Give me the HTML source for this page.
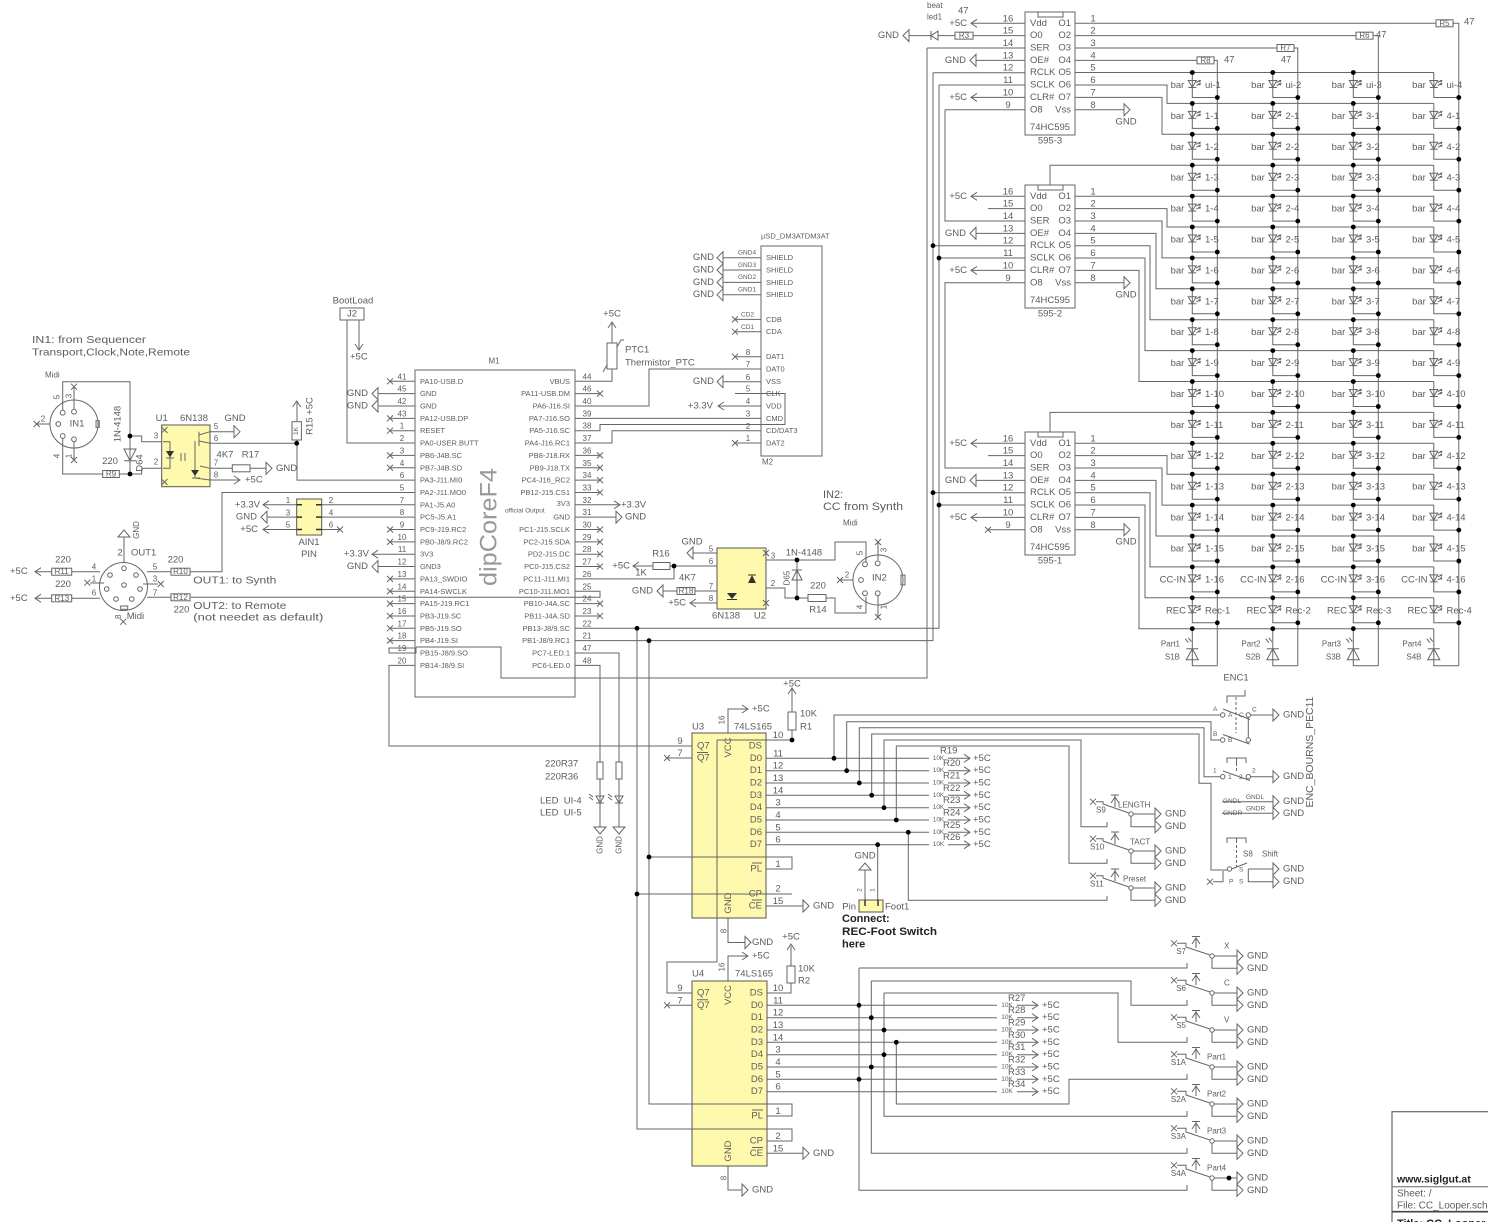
<!DOCTYPE html>
<html><head><meta charset="utf-8"><title>CC_Looper schematic</title>
<style>
html,body{margin:0;padding:0;background:#fff}
svg{display:block;font-size:9.5px}
text{font-family:"Liberation Sans",sans-serif;fill:#5c5c5c;dominant-baseline:central}
.s{font-size:7.5px}
.n{font-size:8px}
.t{font-size:6.5px}
.m{font-size:10.5px}
.b{font-size:11px;font-weight:bold;fill:#222}
.e{text-anchor:end}
.c{text-anchor:middle}
</style></head>
<body>
<svg width="1488" height="1222" viewBox="0 0 1488 1222" xmlns="http://www.w3.org/2000/svg">
<defs>
<path id="gl" d="M0,0L6,-6V6Z" fill="#fff" stroke="#666"/>
<path id="gr" d="M0,-6V6L6,0Z" fill="#fff" stroke="#666"/>
<path id="gd" d="M-6,0H6L0,7Z" fill="#fff" stroke="#666"/>
<path id="gu" d="M-6,0H6L0,-7Z" fill="#fff" stroke="#666"/>
<path id="cl" d="M6,-4L0,0L6,4" fill="none" stroke="#666"/>
<path id="cr" d="M-6,-4L0,0L-6,4" fill="none" stroke="#666"/>
<path id="cu" d="M-4,6L0,0L4,6" fill="none" stroke="#666"/>
<path id="cd" d="M-4,-6L0,0L4,-6" fill="none" stroke="#666"/>
<path id="x" d="M-3,-3L3,3M-3,3L3,-3" fill="none" stroke="#666"/>
<circle id="d" r="2.4" fill="#000"/>
<g id="led" fill="none" stroke="#666"><path d="M-4,8H4L0,15ZM-4,15H4M4,10l4,-2M6,8.3l2,-0.3l-0.6,1.8M4,13l4,-2M6,11.3l2,-0.3l-0.6,1.8"/></g>
<g id="c4"><path d="M0,0V25H25" fill="none" stroke="#666"/><use href="#led"/><circle cx="25" cy="25" r="2.4" fill="#000"/></g>
<g id="c"><use href="#c4"/><circle r="2.4" fill="#000"/></g>
<g id="p4"><path d="M0,0V37H25M-6,20H6M0,20L-6,31H6Z" fill="none" stroke="#666"/><path d="M-4,14l-3,-4M-1,13l-3,-4" fill="none" stroke="#666"/></g>
<g id="p"><use href="#p4"/><circle r="2.4" fill="#000"/></g>
</defs>

<!-- ===================== WIRES ===================== -->
<g fill="none" stroke="#666" stroke-width="1">
<path d="M1075,72.5H1433.8M1075,85.05H1167V103.4H1433.8M1075,97.4H1162V134.3H1433.8M1050,185V165.2H1433.8M1075,196.2H1433.8M1075,208.65H1167V227H1433.8M1075,221H1162V257.9H1433.8M1075,233.35H1156V288.8H1433.8M1075,245.7H1150V319.7H1433.8M1075,258.05H1145V350.6H1433.8M1075,270.4H1139V381.5H1433.8M1050,432V412.4H1433.8M1075,443.3H1433.8M1075,455.65H1167V474.2H1433.8M1075,468H1162V505.1H1433.8M1075,480.35H1156V536H1433.8M1075,492.7H1150V566.9H1433.8M1075,505.05H1145V597.8H1433.8M1075,517.4H1139V628.7H1433.8"/>
<path d="M1075,23.3H1436M1453,23.3H1458.8V665.7M1075,35.65H1356M1373,35.65H1378.3V665.7M1075,48H1277M1294,48H1297.8V665.7M1075,60.35H1197M1214,60.35H1217.3V665.7"/>
<path d="M1075,109.75H1124M1075,282.75H1124M1075,529.75H1124"/>
<path d="M971,23.3H1025M1025,35.65H973M955,35.65H938M931,35.65H909M927,48H1025M976,60.35H1025M933,72.7H1025M939,85.05H1025M971,97.4H1025M945,109.75H1025M945,109.75V221H1025"/>
<path d="M971,196.3H1025M988,208.65H1025M976,233.35H1025M933,245.7H1025M939,258.05H1025M971,270.4H1025M1025,282.75H945V468H1025"/>
<path d="M971,443.3H1025M988,455.65H1025M976,480.35H1025M933,492.7H1025M939,505.05H1025M971,517.4H1025M988,529.75H1025"/>
<path d="M927,48V678H501V647H416M933,72.7V640.65H575M939,85.05V628.3H575"/>
<path d="M938,31V40L931,35.65ZM931,31V40"/>

<path d="M390,381.3H415M378,393.65H415M378,406H415M390,418.35H415M390,430.7H415M347,320V443.05H415M390,455.4H415M390,467.75H415M415,480.1H297V440M297,421V402M415,492.45H222V571.7H190M415,504.8H322M415,517.15H322M390,529.5H415M390,541.85H415M372,554.2H415M378,566.55H415M390,578.9H415M390,591.25H415M390,603.6H415M390,615.95H415M390,628.3H415M390,640.65H415M390,653H415M415,665.35H389V746H692"/>
<rect x="389" y="648" width="27" height="5"/>
<path d="M575,381.3H612V369M575,393.65H600M575,406H649V369H761M575,418.35H761M575,430.7H600V424.5H785V393.5H735M575,443.05H612V430.7H761M575,455.4H600M575,467.75H600M575,480.1H600M575,492.45H600M575,504.8H619M575,517.15H616M575,529.5H600M575,541.85H600M575,554.2H600M575,566.55H600M575,578.9H674V566M575,591.25H600V597.3H190M575,603.6H600M575,615.95H600M575,653H619V762M575,665.35H600V762"/>
<path d="M723,257.7H761M723,270H761M723,282.4H761M723,294.7H761M735,319.4H761M735,331.7H761M735,356.7H761M723,381.7H761M735,393.5H761M718,406H761M735,443H761"/>
<path d="M612,369V322M603,372L621,340l3,0"/>
<path d="M359,320V350"/>

<path d="M62.7,412V381.7H130V474M74,411V387M50,424H37M62.7,436V474H102.7M119.3,474H130M74,437V460M130,436H141.7V441.7H161.7M130,474H141.7V468.3H161.7"/>
<path d="M124,449H136L130,460.7ZM124,460.7H136"/>
<path d="M210,431.7H234M210,443.3H296.7M210,468.3H232.3M250,468.3H266M210,480H240M296.7,443.3V440"/>

<path d="M263,504.8H296.7M267,517.15H296.7M263,529.5H296.7M321.7,529.5H340"/>

<path d="M124,562.5V537M100,571.7H71.7M51.7,571.7H35M100,598.3H71.7M51.7,598.3H35M147,571.7H171M147,597.3H171M90,583H104M143,584H158"/>

<path d="M600,779V827M619,779V827M596,796H604L600,803ZM596,803H604M615,796H623L619,803ZM615,803H623M593,797l-4,-3M593,800l-4,-3M612,797l-4,-3M612,800l-4,-3"/>

<path d="M637,628.3V1129H792V1141H767M649,640.65V1104H792V1116H767M649,857H792V869H766M637,894H792"/>

<path d="M717,740V962H667V993H692M717,740H792M667,758H692M728,733V709H748M792,730V740M792,712V689"/>
<path d="M766,758.3H929M948,758.3H970M766,770.7H929M948,770.7H970M766,783H929M948,783H970M766,795.3H929M948,795.3H970M766,807.7H929M948,807.7H970M766,820H929M948,820H970M766,832.3H929M948,832.3H970M766,844.7H929M948,844.7H970"/>
<path d="M766,906H803M728,918V942.5H745M728,981V956H748"/>
<path d="M834,758.3V715H1220.5M846.7,770.7V721.7H1211V740H1220.5M859.3,783V727.7H1204V776.7H1220.5M871.7,795.3V734H1199V783.3H1211V870H1227M884,807.7V740H1081V826.7H1107V822M896.3,820V746H1069V863.3H1107V859M908.3,832.3V900.3H1107V896M877.7,844.7V906"/>

<path d="M667,1005.3H692M791,983V993H767M791,966V946"/>
<path d="M767,1005.3H997M1017,1005.3H1038M767,1017.7H997M1017,1017.7H1038M767,1030H997M1017,1030H1038M767,1042.3H997M1017,1042.3H1038M767,1054.7H997M1017,1054.7H1038M767,1067H997M1017,1067H1038M767,1079.3H997M1017,1079.3H1038M767,1091.7H997M1017,1091.7H1038"/>
<path d="M767,1153.3H803M728,1166V1190H742"/>
<path d="M859,968V1190.3H1187V1185M859,968H1187V963M871.3,981V1153.3H1187V1148M871.3,981H1131V1005.3H1187V1000M884,993V1116.3H1187V1111M884,993H1118V1042.3H1187V1037M896.3,1042.3V1104H1069V1079.3H1187V1074"/>

<path d="M1177,943.3H1186V947L1210,955M1192,936.5H1200M1196,936.5V948M1214,956H1237M1212,958.2V968.3H1237"/>
<path d="M1177,980.3H1186V984L1210,992M1192,973.5H1200M1196,973.5V985M1214,993H1237M1212,995.2V1005.3H1237"/>
<path d="M1177,1017.3H1186V1021L1210,1029M1192,1010.5H1200M1196,1010.5V1022M1214,1030H1237M1212,1032.2V1042.3H1237"/>
<path d="M1177,1054.3H1186V1058L1210,1066M1192,1047.5H1200M1196,1047.5V1059M1214,1067H1237M1212,1069.2V1079.3H1237"/>
<path d="M1177,1091.3H1186V1095L1210,1103M1192,1084.5H1200M1196,1084.5V1096M1214,1104H1237M1212,1106.2V1116.3H1237"/>
<path d="M1177,1128.3H1186V1132L1210,1140M1192,1121.5H1200M1196,1121.5V1133M1214,1141H1237M1212,1143.2V1153.3H1237"/>
<path d="M1177,1165.3H1186V1169L1210,1177M1192,1158.5H1200M1196,1158.5V1170M1214,1178H1237M1212,1180.2V1190.3H1237"/>

<path d="M1096,801.7H1103V804L1129,813M1111,795H1119M1115,795V807M1133,814H1155M1131,816V826.7H1155"/>
<path d="M1096,838.7H1103V841L1129,850M1111,832H1119M1115,832V844M1133,851H1155M1131,853V863.3H1155"/>
<path d="M1096,875.7H1103V878L1129,887M1111,869H1119M1115,869V881M1133,888H1155M1131,890V900.3H1155"/>

<path d="M1227,703V696H1245V690M1223,709L1250,719.5M1250.5,715H1273M1223,734.5L1249.5,744M1248.3,717V738M1227,763V758H1246V763M1236.5,758V763M1223,771L1250,780.5M1250.5,776.7H1273M1222,801.7H1273M1222,813.3H1273M1227,843V838H1246V843M1236.5,838V843M1231.5,869L1247,863M1248.3,869H1273M1248.3,869V881.7H1273M1213,881.7H1223V871"/>
<path d="M1236,697V733M1236.5,763V773M1236.5,845V867" stroke-dasharray="3,2"/>

<path d="M865,900V870M865,900V906M878,900V906"/>

<path d="M693,553H717M674,566H717M633,566H653M670,566H674M663,591H677M695,591H717M690,603H717M766,560H797M766,588H785V598H797M797,560V598M792,580H802L797,570ZM792,570H802M797,598H808M826,598H835V613H866V597M797,560H835V542H866V563M878,542V560M853,580H840M878,596V617"/>
<path d="M727,553V573" stroke-width="1.6"/>
<path d="M717,553H721L727,558M727,568L733,574V590M752,560V575M752,583V588M741,577V586M744,577V586M732,600V605"/>

<g fill="#fff">
<rect x="1436" y="19.8" width="17" height="7"/><rect x="1356" y="32.15" width="17" height="7"/><rect x="1277" y="44.5" width="17" height="7"/><rect x="1197" y="56.85" width="17" height="7"/>
<rect x="955" y="32.15" width="18" height="7"/>
<rect x="292" y="421.7" width="9.4" height="18.3"/>
<rect x="607" y="343" width="10" height="26"/>
<rect x="102.7" y="470.5" width="16.6" height="7"/>
<rect x="232.3" y="464.8" width="17.7" height="7"/>
<rect x="51.7" y="568.2" width="20" height="7"/><rect x="51.7" y="594.8" width="20" height="7"/>
<rect x="171" y="568.2" width="19" height="7"/><rect x="171" y="593.8" width="19" height="7"/>
<rect x="597" y="762" width="6" height="17"/><rect x="616" y="762" width="6" height="17"/>
<rect x="788" y="712" width="8" height="18"/><rect x="787" y="966" width="8" height="17"/>
<rect x="653" y="562.5" width="17" height="7"/><rect x="677" y="587.5" width="18" height="7"/><rect x="808" y="594.5" width="18" height="7"/>
</g>
<rect x="1025" y="12" width="50" height="123"/><path d="M1038,12V17H1063V12"/>
<rect x="1025" y="185" width="50" height="123"/><path d="M1038,185V190H1063V185"/>
<rect x="1025" y="432" width="50" height="123"/><path d="M1038,432V437H1063V432"/>
<rect x="415" y="370" width="160" height="327"/>
<rect x="761" y="246" width="61" height="210"/>
<rect x="340" y="308" width="24" height="12"/>
<circle cx="74" cy="424" r="24"/>
<circle cx="123.5" cy="586.5" r="24"/>
<circle cx="878" cy="580" r="25"/>
<rect x="96" y="420.7" width="3.3" height="6.6"/>
<rect x="120.7" y="606" width="7" height="3.3"/>
<rect x="901" y="575" width="4" height="10"/>
<g fill="#fff">
<circle cx="62.7" cy="412.7" r="2.4"/><circle cx="74" cy="411.7" r="2.4"/><circle cx="58.3" cy="424" r="2.4"/><circle cx="62.7" cy="436" r="2.4"/><circle cx="74" cy="439.3" r="2.4"/>
<circle cx="124" cy="568.3" r="2.3"/><circle cx="136" cy="575" r="2.3"/><circle cx="110" cy="575" r="2.3"/><circle cx="106.7" cy="589" r="2.3"/><circle cx="124" cy="585" r="2.3"/><circle cx="140" cy="589" r="2.3"/><circle cx="116" cy="599" r="2.3"/><circle cx="131.7" cy="599" r="2.3"/>
<circle cx="865" cy="564.3" r="2.4"/><circle cx="877.7" cy="563.3" r="2.4"/><circle cx="861" cy="580" r="2.4"/><circle cx="865" cy="593.3" r="2.4"/><circle cx="877.7" cy="593.3" r="2.4"/>
<circle cx="1212" cy="956" r="2.2"/><circle cx="1212" cy="993" r="2.2"/><circle cx="1212" cy="1030" r="2.2"/><circle cx="1212" cy="1067" r="2.2"/><circle cx="1212" cy="1104" r="2.2"/><circle cx="1212" cy="1141" r="2.2"/><circle cx="1212" cy="1178" r="2.2"/>
<circle cx="1131" cy="814" r="2.2"/><circle cx="1131" cy="851" r="2.2"/><circle cx="1131" cy="888" r="2.2"/>
<circle cx="1222.7" cy="715" r="2.2"/><circle cx="1248.3" cy="715" r="2.2"/><circle cx="1222.7" cy="740" r="2.2"/><circle cx="1248.3" cy="740" r="2.2"/><circle cx="1222.7" cy="776.7" r="2.2"/><circle cx="1248.3" cy="776.7" r="2.2"/><circle cx="1229.5" cy="869" r="2.2"/>
</g>
</g>

<g stroke="#555" fill="#fff9ae">
<rect x="161.7" y="425" width="48.3" height="61.7"/>
<rect x="296.7" y="499" width="25" height="36"/>
<rect x="717" y="548" width="49" height="61"/>
<rect x="692" y="733" width="74" height="185"/>
<rect x="692" y="981" width="75" height="185"/>
<rect x="859" y="900" width="24" height="12"/>
</g>
<g fill="none" stroke="#666">
<path d="M717,740V918M717,740H766M637,894H766M649,857H766"/>
<path d="M692,1104H767M692,1129H767"/>
<path d="M163,441.7H170V468.3H163M166,458H174M181,453V461M185,453V461M199,431.7V446M199,435L210,431.7M199,441L210,443.3M195,441V478M192,478H200M195,478L210,480M200,466L210,468.3"/>
<path d="M865,900V906M878,900V906" stroke="#333" stroke-width="1.5"/>
<path d="M296.7,504.8H302M296.7,517.15H302M296.7,529.5H302M316,504.8H321.7M316,517.15H321.7M316,529.5H321.7" stroke="#333" stroke-width="1.5"/>
<path d="M697,752.5H708M697,999.8H708M752,863H762M752,900H762M752,1110H763M752,1147.5H763"/>
</g>
<g fill="#333" stroke="none">
<path d="M166,451H174L170,457.5Z"/>
<path d="M191,470H199L195,476Z"/>
<path d="M752,575L748,583H756Z"/>
<path d="M727,593H737L732,599Z"/>
</g>
<path d="M748,575H756M727,599.5H737" stroke="#333"/>

<use href="#cl" x="971" y="23.3"/><use href="#cl" x="971" y="97.4"/><use href="#cl" x="971" y="196.3"/><use href="#cl" x="971" y="270.4"/><use href="#cl" x="971" y="443.3"/><use href="#cl" x="971" y="517.4"/>
<use href="#gl" x="970" y="60.35"/><use href="#gl" x="970" y="233.35"/><use href="#gl" x="970" y="480.35"/>
<use href="#gl" x="903" y="35.65"/>
<use href="#gr" x="1124" y="109.75"/><use href="#gr" x="1124" y="282.75"/><use href="#gr" x="1124" y="529.75"/>
<use href="#x" x="988" y="529.75"/>
<use href="#d" x="933" y="245.7"/><use href="#d" x="939" y="258.05"/><use href="#d" x="933" y="492.7"/><use href="#d" x="939" y="505.05"/>

<use href="#c" x="1192.3" y="72.5"/><use href="#c" x="1272.8" y="72.5"/><use href="#c" x="1353.3" y="72.5"/><use href="#c4" x="1433.8" y="72.5"/>
<use href="#c" x="1192.3" y="103.4"/><use href="#c" x="1272.8" y="103.4"/><use href="#c" x="1353.3" y="103.4"/><use href="#c4" x="1433.8" y="103.4"/>
<use href="#c" x="1192.3" y="134.3"/><use href="#c" x="1272.8" y="134.3"/><use href="#c" x="1353.3" y="134.3"/><use href="#c4" x="1433.8" y="134.3"/>
<use href="#c" x="1192.3" y="165.2"/><use href="#c" x="1272.8" y="165.2"/><use href="#c" x="1353.3" y="165.2"/><use href="#c4" x="1433.8" y="165.2"/>
<use href="#c" x="1192.3" y="196.1"/><use href="#c" x="1272.8" y="196.1"/><use href="#c" x="1353.3" y="196.1"/><use href="#c4" x="1433.8" y="196.1"/>
<use href="#c" x="1192.3" y="227"/><use href="#c" x="1272.8" y="227"/><use href="#c" x="1353.3" y="227"/><use href="#c4" x="1433.8" y="227"/>
<use href="#c" x="1192.3" y="257.9"/><use href="#c" x="1272.8" y="257.9"/><use href="#c" x="1353.3" y="257.9"/><use href="#c4" x="1433.8" y="257.9"/>
<use href="#c" x="1192.3" y="288.8"/><use href="#c" x="1272.8" y="288.8"/><use href="#c" x="1353.3" y="288.8"/><use href="#c4" x="1433.8" y="288.8"/>
<use href="#c" x="1192.3" y="319.7"/><use href="#c" x="1272.8" y="319.7"/><use href="#c" x="1353.3" y="319.7"/><use href="#c4" x="1433.8" y="319.7"/>
<use href="#c" x="1192.3" y="350.6"/><use href="#c" x="1272.8" y="350.6"/><use href="#c" x="1353.3" y="350.6"/><use href="#c4" x="1433.8" y="350.6"/>
<use href="#c" x="1192.3" y="381.5"/><use href="#c" x="1272.8" y="381.5"/><use href="#c" x="1353.3" y="381.5"/><use href="#c4" x="1433.8" y="381.5"/>
<use href="#c" x="1192.3" y="412.4"/><use href="#c" x="1272.8" y="412.4"/><use href="#c" x="1353.3" y="412.4"/><use href="#c4" x="1433.8" y="412.4"/>
<use href="#c" x="1192.3" y="443.3"/><use href="#c" x="1272.8" y="443.3"/><use href="#c" x="1353.3" y="443.3"/><use href="#c4" x="1433.8" y="443.3"/>
<use href="#c" x="1192.3" y="474.2"/><use href="#c" x="1272.8" y="474.2"/><use href="#c" x="1353.3" y="474.2"/><use href="#c4" x="1433.8" y="474.2"/>
<use href="#c" x="1192.3" y="505.1"/><use href="#c" x="1272.8" y="505.1"/><use href="#c" x="1353.3" y="505.1"/><use href="#c4" x="1433.8" y="505.1"/>
<use href="#c" x="1192.3" y="536"/><use href="#c" x="1272.8" y="536"/><use href="#c" x="1353.3" y="536"/><use href="#c4" x="1433.8" y="536"/>
<use href="#c" x="1192.3" y="566.9"/><use href="#c" x="1272.8" y="566.9"/><use href="#c" x="1353.3" y="566.9"/><use href="#c4" x="1433.8" y="566.9"/>
<use href="#c" x="1192.3" y="597.8"/><use href="#c" x="1272.8" y="597.8"/><use href="#c" x="1353.3" y="597.8"/><use href="#c4" x="1433.8" y="597.8"/>
<use href="#p" x="1192.3" y="628.7"/><use href="#p" x="1272.8" y="628.7"/><use href="#p" x="1353.3" y="628.7"/><use href="#p4" x="1433.8" y="628.7"/>

<use href="#x" x="390" y="381.3"/><use href="#x" x="390" y="418.35"/><use href="#x" x="390" y="430.7"/><use href="#x" x="390" y="455.4"/><use href="#x" x="390" y="467.75"/><use href="#x" x="390" y="529.5"/><use href="#x" x="390" y="541.85"/><use href="#x" x="390" y="578.9"/><use href="#x" x="390" y="591.25"/><use href="#x" x="390" y="603.6"/><use href="#x" x="390" y="615.95"/><use href="#x" x="390" y="628.3"/><use href="#x" x="390" y="640.65"/>
<use href="#gl" x="372" y="393.65"/><use href="#gl" x="372" y="406"/><use href="#gl" x="372" y="566.55"/><use href="#cl" x="372" y="554.2"/>
<use href="#x" x="600" y="393.65"/><use href="#x" x="600" y="455.4"/><use href="#x" x="600" y="467.75"/><use href="#x" x="600" y="480.1"/><use href="#x" x="600" y="492.45"/><use href="#x" x="600" y="529.5"/><use href="#x" x="600" y="541.85"/><use href="#x" x="600" y="554.2"/><use href="#x" x="600" y="566.55"/><use href="#x" x="600" y="603.6"/><use href="#x" x="600" y="615.95"/>
<use href="#cr" x="620" y="504.8"/><use href="#gr" x="616" y="517.15"/>
<use href="#d" x="637" y="628.3"/><use href="#d" x="649" y="640.65"/>
<use href="#gl" x="717" y="257.7"/><use href="#gl" x="717" y="270"/><use href="#gl" x="717" y="282.4"/><use href="#gl" x="717" y="294.7"/><use href="#gl" x="717" y="381.7"/><use href="#cl" x="718" y="406"/>
<use href="#x" x="735" y="319.4"/><use href="#x" x="735" y="331.7"/><use href="#x" x="735" y="356.7"/><use href="#x" x="735" y="443"/>
<use href="#cu" x="612" y="322"/>
<use href="#cd" x="359" y="350"/>
<use href="#x" x="74" y="386.7"/><use href="#x" x="36.7" y="424"/><use href="#x" x="74" y="460"/>
<use href="#d" x="130" y="436"/><use href="#d" x="130" y="474"/>
<use href="#x" x="164.5" y="430"/><use href="#x" x="164.5" y="482"/>
<use href="#gr" x="234" y="431.7"/><use href="#gr" x="266" y="468.3"/><use href="#cr" x="240" y="480"/>
<use href="#d" x="296.7" y="443.3"/><use href="#cu" x="296.7" y="401"/>
<use href="#cl" x="263" y="504.8"/><use href="#gl" x="261" y="517.15"/><use href="#cl" x="263" y="529.5"/><use href="#x" x="340" y="529.5"/>
<use href="#gu" x="124" y="537"/><use href="#cl" x="35" y="571.7"/><use href="#cl" x="35" y="598.3"/>
<use href="#x" x="87.3" y="582.7"/><use href="#x" x="160.7" y="584"/><use href="#x" x="123.3" y="621.7"/>
<use href="#gd" x="600" y="827"/><use href="#gd" x="619" y="827"/>
<use href="#x" x="667" y="758"/><use href="#cr" x="748" y="709"/><use href="#cu" x="792" y="688"/><use href="#d" x="792" y="740"/>
<use href="#cr" x="970" y="758.3"/><use href="#cr" x="970" y="770.7"/><use href="#cr" x="970" y="783"/><use href="#cr" x="970" y="795.3"/><use href="#cr" x="970" y="807.7"/><use href="#cr" x="970" y="820"/><use href="#cr" x="970" y="832.3"/><use href="#cr" x="970" y="844.7"/>
<use href="#gr" x="803" y="906"/><use href="#gr" x="745" y="942.5"/><use href="#cr" x="748" y="956"/>
<use href="#d" x="649" y="857"/><use href="#d" x="637" y="894"/>
<use href="#d" x="834" y="758.3"/><use href="#d" x="846.7" y="770.7"/><use href="#d" x="859.3" y="783"/><use href="#d" x="871.7" y="795.3"/><use href="#d" x="884" y="807.7"/><use href="#d" x="896.3" y="820"/><use href="#d" x="908.3" y="832.3"/><use href="#d" x="877.7" y="844.7"/>
<use href="#x" x="667" y="1005.3"/><use href="#cu" x="791" y="944"/>
<use href="#cr" x="1038" y="1005.3"/><use href="#cr" x="1038" y="1017.7"/><use href="#cr" x="1038" y="1030"/><use href="#cr" x="1038" y="1042.3"/><use href="#cr" x="1038" y="1054.7"/><use href="#cr" x="1038" y="1067"/><use href="#cr" x="1038" y="1079.3"/><use href="#cr" x="1038" y="1091.7"/>
<use href="#gr" x="803" y="1153.3"/><use href="#gr" x="742" y="1190"/>
<use href="#d" x="859" y="1005.3"/><use href="#d" x="871.3" y="1017.7"/><use href="#d" x="884" y="1030"/><use href="#d" x="896.3" y="1042.3"/><use href="#d" x="884" y="1054.7"/><use href="#d" x="871.3" y="1067"/><use href="#d" x="859" y="1079.3"/>
<use href="#x" x="1174" y="943.3"/><use href="#x" x="1174" y="980.3"/><use href="#x" x="1174" y="1017.3"/><use href="#x" x="1174" y="1054.3"/><use href="#x" x="1174" y="1091.3"/><use href="#x" x="1174" y="1128.3"/><use href="#x" x="1174" y="1165.3"/>
<use href="#cu" x="1196" y="938"/><use href="#cu" x="1196" y="975"/><use href="#cu" x="1196" y="1012"/><use href="#cu" x="1196" y="1049"/><use href="#cu" x="1196" y="1086"/><use href="#cu" x="1196" y="1123"/><use href="#cu" x="1196" y="1160"/>
<use href="#gr" x="1237" y="956"/><use href="#gr" x="1237" y="968.3"/><use href="#gr" x="1237" y="993"/><use href="#gr" x="1237" y="1005.3"/><use href="#gr" x="1237" y="1030"/><use href="#gr" x="1237" y="1042.3"/><use href="#gr" x="1237" y="1067"/><use href="#gr" x="1237" y="1079.3"/><use href="#gr" x="1237" y="1104"/><use href="#gr" x="1237" y="1116.3"/><use href="#gr" x="1237" y="1141"/><use href="#gr" x="1237" y="1153.3"/><use href="#gr" x="1237" y="1178"/><use href="#gr" x="1237" y="1190.3"/>
<use href="#d" x="1229" y="1178"/>
<use href="#x" x="1093" y="801.7"/><use href="#x" x="1093" y="838.7"/><use href="#x" x="1093" y="875.7"/>
<use href="#cu" x="1115" y="797"/><use href="#cu" x="1115" y="834"/><use href="#cu" x="1115" y="871"/>
<use href="#gr" x="1155" y="814"/><use href="#gr" x="1155" y="826.7"/><use href="#gr" x="1155" y="851"/><use href="#gr" x="1155" y="863.3"/><use href="#gr" x="1155" y="888"/><use href="#gr" x="1155" y="900.3"/>
<use href="#gr" x="1273" y="715"/><use href="#gr" x="1273" y="776.7"/><use href="#gr" x="1273" y="801.7"/><use href="#gr" x="1273" y="813.3"/><use href="#gr" x="1273" y="869"/><use href="#gr" x="1273" y="881.7"/>
<use href="#x" x="1210" y="881.7"/>
<use href="#gu" x="865" y="870"/>
<use href="#gl" x="687" y="553"/><use href="#cl" x="633" y="566"/><use href="#gl" x="657" y="591"/><use href="#cl" x="690" y="603"/>
<use href="#d" x="674" y="566"/><use href="#x" x="766" y="553"/><use href="#x" x="766" y="603"/>
<use href="#d" x="797" y="560"/><use href="#d" x="797" y="598"/>
<use href="#x" x="878" y="542"/><use href="#x" x="840" y="580"/><use href="#x" x="878" y="617"/>

<rect x="1392" y="1111.7" width="100" height="115" fill="none" stroke="#666" stroke-width="1.2"/>
<path d="M1392,1186.7H1488" stroke="#666"/>
<path d="M1392,1211.7H1488" stroke="#444" stroke-width="1.6"/>

<!-- ===================== TEXT ===================== -->
<text x="1030" y="23.3">Vdd</text><text x="1030" y="35.65">O0</text><text x="1030" y="48">SER</text><text x="1030" y="60.35">OE#</text><text x="1030" y="72.7">RCLK</text><text x="1030" y="85.05">SCLK</text><text x="1030" y="97.4">CLR#</text><text x="1030" y="109.75">O8</text>
<text class="e" x="1071" y="23.3">O1</text><text class="e" x="1071" y="35.65">O2</text><text class="e" x="1071" y="48">O3</text><text class="e" x="1071" y="60.35">O4</text><text class="e" x="1071" y="72.7">O5</text><text class="e" x="1071" y="85.05">O6</text><text class="e" x="1071" y="97.4">O7</text><text class="e" x="1071" y="109.75">Vss</text>
<text class="c" x="1050" y="127.5">74HC595</text><text class="c" x="1050" y="141">595-3</text>
<text class="c" x="1008" y="18.8">16</text><text class="c" x="1008" y="31.2">15</text><text class="c" x="1008" y="43.5">14</text><text class="c" x="1008" y="55.9">13</text><text class="c" x="1008" y="68.2">12</text><text class="c" x="1008" y="80.6">11</text><text class="c" x="1008" y="92.9">10</text><text class="c" x="1008" y="105.3">9</text>
<text class="c" x="1093" y="18.8">1</text><text class="c" x="1093" y="31.2">2</text><text class="c" x="1093" y="43.5">3</text><text class="c" x="1093" y="55.9">4</text><text class="c" x="1093" y="68.2">5</text><text class="c" x="1093" y="80.6">6</text><text class="c" x="1093" y="92.9">7</text><text class="c" x="1093" y="105.3">8</text>
<text class="e" x="967" y="23.3">+5C</text><text class="e" x="966" y="60.35">GND</text><text class="e" x="967" y="97.4">+5C</text>
<text class="c" x="1126" y="122">GND</text>
<text class="e" x="899" y="35.65">GND</text>
<text x="927" y="5.5" class="n">beat</text><text x="927" y="17" class="n">led1</text><text x="958" y="11">47</text>
<text class="c n" x="964" y="35.65">R3</text>
<text x="1030" y="196.3">Vdd</text><text x="1030" y="208.65">O0</text><text x="1030" y="221">SER</text><text x="1030" y="233.35">OE#</text><text x="1030" y="245.7">RCLK</text><text x="1030" y="258.05">SCLK</text><text x="1030" y="270.4">CLR#</text><text x="1030" y="282.75">O8</text>
<text class="e" x="1071" y="196.3">O1</text><text class="e" x="1071" y="208.65">O2</text><text class="e" x="1071" y="221">O3</text><text class="e" x="1071" y="233.35">O4</text><text class="e" x="1071" y="245.7">O5</text><text class="e" x="1071" y="258.05">O6</text><text class="e" x="1071" y="270.4">O7</text><text class="e" x="1071" y="282.75">Vss</text>
<text class="c" x="1050" y="300.5">74HC595</text><text class="c" x="1050" y="314">595-2</text>
<text class="c" x="1008" y="191.8">16</text><text class="c" x="1008" y="204.2">15</text><text class="c" x="1008" y="216.5">14</text><text class="c" x="1008" y="228.9">13</text><text class="c" x="1008" y="241.2">12</text><text class="c" x="1008" y="253.6">11</text><text class="c" x="1008" y="265.9">10</text><text class="c" x="1008" y="278.3">9</text>
<text class="c" x="1093" y="191.8">1</text><text class="c" x="1093" y="204.2">2</text><text class="c" x="1093" y="216.5">3</text><text class="c" x="1093" y="228.9">4</text><text class="c" x="1093" y="241.2">5</text><text class="c" x="1093" y="253.6">6</text><text class="c" x="1093" y="265.9">7</text><text class="c" x="1093" y="278.3">8</text>
<text class="e" x="967" y="196.3">+5C</text><text class="e" x="966" y="233.35">GND</text><text class="e" x="967" y="270.4">+5C</text>
<text class="c" x="1126" y="295">GND</text>
<text x="1030" y="443.3">Vdd</text><text x="1030" y="455.65">O0</text><text x="1030" y="468">SER</text><text x="1030" y="480.35">OE#</text><text x="1030" y="492.7">RCLK</text><text x="1030" y="505.05">SCLK</text><text x="1030" y="517.4">CLR#</text><text x="1030" y="529.75">O8</text>
<text class="e" x="1071" y="443.3">O1</text><text class="e" x="1071" y="455.65">O2</text><text class="e" x="1071" y="468">O3</text><text class="e" x="1071" y="480.35">O4</text><text class="e" x="1071" y="492.7">O5</text><text class="e" x="1071" y="505.05">O6</text><text class="e" x="1071" y="517.4">O7</text><text class="e" x="1071" y="529.75">Vss</text>
<text class="c" x="1050" y="547.5">74HC595</text><text class="c" x="1050" y="561">595-1</text>
<text class="c" x="1008" y="438.8">16</text><text class="c" x="1008" y="451.2">15</text><text class="c" x="1008" y="463.5">14</text><text class="c" x="1008" y="475.9">13</text><text class="c" x="1008" y="488.2">12</text><text class="c" x="1008" y="500.6">11</text><text class="c" x="1008" y="512.9">10</text><text class="c" x="1008" y="525.3">9</text>
<text class="c" x="1093" y="438.8">1</text><text class="c" x="1093" y="451.2">2</text><text class="c" x="1093" y="463.5">3</text><text class="c" x="1093" y="475.9">4</text><text class="c" x="1093" y="488.2">5</text><text class="c" x="1093" y="500.6">6</text><text class="c" x="1093" y="512.9">7</text><text class="c" x="1093" y="525.3">8</text>
<text class="e" x="967" y="443.3">+5C</text><text class="e" x="966" y="480.35">GND</text><text class="e" x="967" y="517.4">+5C</text>
<text class="c" x="1126" y="542">GND</text>

<text class="c n" x="1444.5" y="23.3">R5</text><text x="1464" y="22">47</text>
<text class="c n" x="1364.5" y="35.65">R6</text><text x="1376" y="35">47</text>
<text class="c n" x="1285.5" y="48">R7</text><text class="c" x="1286" y="60">47</text>
<text class="c n" x="1205.5" y="60.35">R8</text><text x="1224" y="60">47</text>

<text class="e"><tspan x="1184.3" y="85">bar</tspan><tspan x="1264.8" y="85">bar</tspan><tspan x="1345.3" y="85">bar</tspan><tspan x="1425.8" y="85">bar</tspan></text>
<text><tspan x="1205" y="85">ui-1</tspan><tspan x="1285.5" y="85">ui-2</tspan><tspan x="1366" y="85">ui-3</tspan><tspan x="1446.5" y="85">ui-4</tspan></text>
<text class="e"><tspan x="1184.3" y="115.9">bar</tspan><tspan x="1264.8" y="115.9">bar</tspan><tspan x="1345.3" y="115.9">bar</tspan><tspan x="1425.8" y="115.9">bar</tspan></text>
<text><tspan x="1205" y="115.9">1-1</tspan><tspan x="1285.5" y="115.9">2-1</tspan><tspan x="1366" y="115.9">3-1</tspan><tspan x="1446.5" y="115.9">4-1</tspan></text>
<text class="e"><tspan x="1184.3" y="146.8">bar</tspan><tspan x="1264.8" y="146.8">bar</tspan><tspan x="1345.3" y="146.8">bar</tspan><tspan x="1425.8" y="146.8">bar</tspan></text>
<text><tspan x="1205" y="146.8">1-2</tspan><tspan x="1285.5" y="146.8">2-2</tspan><tspan x="1366" y="146.8">3-2</tspan><tspan x="1446.5" y="146.8">4-2</tspan></text>
<text class="e"><tspan x="1184.3" y="177.7">bar</tspan><tspan x="1264.8" y="177.7">bar</tspan><tspan x="1345.3" y="177.7">bar</tspan><tspan x="1425.8" y="177.7">bar</tspan></text>
<text><tspan x="1205" y="177.7">1-3</tspan><tspan x="1285.5" y="177.7">2-3</tspan><tspan x="1366" y="177.7">3-3</tspan><tspan x="1446.5" y="177.7">4-3</tspan></text>
<text class="e"><tspan x="1184.3" y="208.6">bar</tspan><tspan x="1264.8" y="208.6">bar</tspan><tspan x="1345.3" y="208.6">bar</tspan><tspan x="1425.8" y="208.6">bar</tspan></text>
<text><tspan x="1205" y="208.6">1-4</tspan><tspan x="1285.5" y="208.6">2-4</tspan><tspan x="1366" y="208.6">3-4</tspan><tspan x="1446.5" y="208.6">4-4</tspan></text>
<text class="e"><tspan x="1184.3" y="239.5">bar</tspan><tspan x="1264.8" y="239.5">bar</tspan><tspan x="1345.3" y="239.5">bar</tspan><tspan x="1425.8" y="239.5">bar</tspan></text>
<text><tspan x="1205" y="239.5">1-5</tspan><tspan x="1285.5" y="239.5">2-5</tspan><tspan x="1366" y="239.5">3-5</tspan><tspan x="1446.5" y="239.5">4-5</tspan></text>
<text class="e"><tspan x="1184.3" y="270.4">bar</tspan><tspan x="1264.8" y="270.4">bar</tspan><tspan x="1345.3" y="270.4">bar</tspan><tspan x="1425.8" y="270.4">bar</tspan></text>
<text><tspan x="1205" y="270.4">1-6</tspan><tspan x="1285.5" y="270.4">2-6</tspan><tspan x="1366" y="270.4">3-6</tspan><tspan x="1446.5" y="270.4">4-6</tspan></text>
<text class="e"><tspan x="1184.3" y="301.3">bar</tspan><tspan x="1264.8" y="301.3">bar</tspan><tspan x="1345.3" y="301.3">bar</tspan><tspan x="1425.8" y="301.3">bar</tspan></text>
<text><tspan x="1205" y="301.3">1-7</tspan><tspan x="1285.5" y="301.3">2-7</tspan><tspan x="1366" y="301.3">3-7</tspan><tspan x="1446.5" y="301.3">4-7</tspan></text>
<text class="e"><tspan x="1184.3" y="332.2">bar</tspan><tspan x="1264.8" y="332.2">bar</tspan><tspan x="1345.3" y="332.2">bar</tspan><tspan x="1425.8" y="332.2">bar</tspan></text>
<text><tspan x="1205" y="332.2">1-8</tspan><tspan x="1285.5" y="332.2">2-8</tspan><tspan x="1366" y="332.2">3-8</tspan><tspan x="1446.5" y="332.2">4-8</tspan></text>
<text class="e"><tspan x="1184.3" y="363.1">bar</tspan><tspan x="1264.8" y="363.1">bar</tspan><tspan x="1345.3" y="363.1">bar</tspan><tspan x="1425.8" y="363.1">bar</tspan></text>
<text><tspan x="1205" y="363.1">1-9</tspan><tspan x="1285.5" y="363.1">2-9</tspan><tspan x="1366" y="363.1">3-9</tspan><tspan x="1446.5" y="363.1">4-9</tspan></text>
<text class="e"><tspan x="1184.3" y="394">bar</tspan><tspan x="1264.8" y="394">bar</tspan><tspan x="1345.3" y="394">bar</tspan><tspan x="1425.8" y="394">bar</tspan></text>
<text><tspan x="1205" y="394">1-10</tspan><tspan x="1285.5" y="394">2-10</tspan><tspan x="1366" y="394">3-10</tspan><tspan x="1446.5" y="394">4-10</tspan></text>
<text class="e"><tspan x="1184.3" y="424.9">bar</tspan><tspan x="1264.8" y="424.9">bar</tspan><tspan x="1345.3" y="424.9">bar</tspan><tspan x="1425.8" y="424.9">bar</tspan></text>
<text><tspan x="1205" y="424.9">1-11</tspan><tspan x="1285.5" y="424.9">2-11</tspan><tspan x="1366" y="424.9">3-11</tspan><tspan x="1446.5" y="424.9">4-11</tspan></text>
<text class="e"><tspan x="1184.3" y="455.8">bar</tspan><tspan x="1264.8" y="455.8">bar</tspan><tspan x="1345.3" y="455.8">bar</tspan><tspan x="1425.8" y="455.8">bar</tspan></text>
<text><tspan x="1205" y="455.8">1-12</tspan><tspan x="1285.5" y="455.8">2-12</tspan><tspan x="1366" y="455.8">3-12</tspan><tspan x="1446.5" y="455.8">4-12</tspan></text>
<text class="e"><tspan x="1184.3" y="486.7">bar</tspan><tspan x="1264.8" y="486.7">bar</tspan><tspan x="1345.3" y="486.7">bar</tspan><tspan x="1425.8" y="486.7">bar</tspan></text>
<text><tspan x="1205" y="486.7">1-13</tspan><tspan x="1285.5" y="486.7">2-13</tspan><tspan x="1366" y="486.7">3-13</tspan><tspan x="1446.5" y="486.7">4-13</tspan></text>
<text class="e"><tspan x="1184.3" y="517.6">bar</tspan><tspan x="1264.8" y="517.6">bar</tspan><tspan x="1345.3" y="517.6">bar</tspan><tspan x="1425.8" y="517.6">bar</tspan></text>
<text><tspan x="1205" y="517.6">1-14</tspan><tspan x="1285.5" y="517.6">2-14</tspan><tspan x="1366" y="517.6">3-14</tspan><tspan x="1446.5" y="517.6">4-14</tspan></text>
<text class="e"><tspan x="1184.3" y="548.5">bar</tspan><tspan x="1264.8" y="548.5">bar</tspan><tspan x="1345.3" y="548.5">bar</tspan><tspan x="1425.8" y="548.5">bar</tspan></text>
<text><tspan x="1205" y="548.5">1-15</tspan><tspan x="1285.5" y="548.5">2-15</tspan><tspan x="1366" y="548.5">3-15</tspan><tspan x="1446.5" y="548.5">4-15</tspan></text>
<text class="e"><tspan x="1186" y="579.4">CC-IN</tspan><tspan x="1266.5" y="579.4">CC-IN</tspan><tspan x="1347" y="579.4">CC-IN</tspan><tspan x="1427.5" y="579.4">CC-IN</tspan></text>
<text><tspan x="1205" y="579.4">1-16</tspan><tspan x="1285.5" y="579.4">2-16</tspan><tspan x="1366" y="579.4">3-16</tspan><tspan x="1446.5" y="579.4">4-16</tspan></text>
<text class="e"><tspan x="1186" y="610.3">REC</tspan><tspan x="1266.5" y="610.3">REC</tspan><tspan x="1347" y="610.3">REC</tspan><tspan x="1427.5" y="610.3">REC</tspan></text>
<text><tspan x="1205" y="610.3">Rec-1</tspan><tspan x="1285.5" y="610.3">Rec-2</tspan><tspan x="1366" y="610.3">Rec-3</tspan><tspan x="1446.5" y="610.3">Rec-4</tspan></text>
<text class="e n"><tspan x="1180" y="643.5">Part1</tspan><tspan x="1260.5" y="643.5">Part2</tspan><tspan x="1341" y="643.5">Part3</tspan><tspan x="1421.5" y="643.5">Part4</tspan></text>
<text class="e n"><tspan x="1180" y="656.5">S1B</tspan><tspan x="1260.5" y="656.5">S2B</tspan><tspan x="1341" y="656.5">S3B</tspan><tspan x="1421.5" y="656.5">S4B</tspan></text>

<text class="c n" x="494" y="361">M1</text>
<text class="c" x="489" y="527" transform="rotate(-90 489 527)" style="font-size:24px;fill:#999" textLength="118" lengthAdjust="spacingAndGlyphs">dipCoreF4</text>
<g class="s">
<text x="420" y="381.3">PA10-USB.D</text><text x="420" y="393.65">GND</text><text x="420" y="406">GND</text><text x="420" y="418.35">PA12-USB.DP</text><text x="420" y="430.7">RESET</text><text x="420" y="443.05">PA0-USER.BUTT</text><text x="420" y="455.4">PB6-J4B.SC</text><text x="420" y="467.75">PB7-J4B.SD</text><text x="420" y="480.1">PA3-J11.MI0</text><text x="420" y="492.45">PA2-J11.MO0</text><text x="420" y="504.8">PA1-J5.A0</text><text x="420" y="517.15">PC5-J5.A1</text><text x="420" y="529.5">PC9-J19.RC2</text><text x="420" y="541.85">PB0-J8/9.RC2</text><text x="420" y="554.2">3V3</text><text x="420" y="566.55">GND3</text><text x="420" y="578.9">PA13_SWDIO</text><text x="420" y="591.25">PA14-SWCLK</text><text x="420" y="603.6">PA15-J19.RC1</text><text x="420" y="615.95">PB3-J19.SC</text><text x="420" y="628.3">PB5-J19.SO</text><text x="420" y="640.65">PB4-J19.SI</text><text x="420" y="653">PB15-J8/9.SO</text><text x="420" y="665.35">PB14-J8/9.SI</text>
<text class="e" x="570" y="381.3">VBUS</text><text class="e" x="570" y="393.65">PA11-USB.DM</text><text class="e" x="570" y="406">PA6-J16.SI</text><text class="e" x="570" y="418.35">PA7-J16.SO</text><text class="e" x="570" y="430.7">PA5-J16.SC</text><text class="e" x="570" y="443.05">PA4-J16.RC1</text><text class="e" x="570" y="455.4">PB8-J18.RX</text><text class="e" x="570" y="467.75">PB9-J18.TX</text><text class="e" x="570" y="480.1">PC4-J16_RC2</text><text class="e" x="570" y="492.45">PB12-J15.CS1</text><text class="e" x="570" y="503.5">3V3</text><text class="e" x="570" y="517.15">GND</text><text class="e" x="570" y="529.5">PC1-J15.SCLK</text><text class="e" x="570" y="541.85">PC2-J15.SDA</text><text class="e" x="570" y="554.2">PD2-J15.DC</text><text class="e" x="570" y="566.55">PC0-J15.CS2</text><text class="e" x="570" y="578.9">PC11-J11.MI1</text><text class="e" x="570" y="591.25">PC10-J11.MO1</text><text class="e" x="570" y="603.6">PB10-J4A.SC</text><text class="e" x="570" y="615.95">PB11-J4A.SD</text><text class="e" x="570" y="628.3">PB13-J8/9.SC</text><text class="e" x="570" y="640.65">PB1-J8/9.RC1</text><text class="e" x="570" y="653">PC7-LED.1</text><text class="e" x="570" y="665.35">PC6-LED.0</text>
<text x="505" y="511" class="t">official Output</text>
</g>
<g class="n">
<text class="c" x="402" y="376.8">41</text><text class="c" x="402" y="389.2">45</text><text class="c" x="402" y="401.5">42</text><text class="c" x="402" y="413.9">43</text><text class="c" x="402" y="426.2">1</text><text class="c" x="402" y="438.6">2</text><text class="c" x="402" y="450.9">3</text><text class="c" x="402" y="463.3">4</text><text class="c" x="402" y="475.6">6</text><text class="c" x="402" y="488">5</text><text class="c" x="402" y="500.3">7</text><text class="c" x="402" y="512.7">8</text><text class="c" x="402" y="525">9</text><text class="c" x="402" y="537.4">10</text><text class="c" x="402" y="549.7">11</text><text class="c" x="402" y="562.1">12</text><text class="c" x="402" y="574.4">13</text><text class="c" x="402" y="586.8">14</text><text class="c" x="402" y="599.1">15</text><text class="c" x="402" y="611.5">16</text><text class="c" x="402" y="623.8">17</text><text class="c" x="402" y="636.2">18</text><text class="c" x="402" y="648.5">19</text><text class="c" x="402" y="660.9">20</text>
<text class="c" x="587" y="376.8">44</text><text class="c" x="587" y="389.2">46</text><text class="c" x="587" y="401.5">40</text><text class="c" x="587" y="413.9">39</text><text class="c" x="587" y="426.2">38</text><text class="c" x="587" y="438.6">37</text><text class="c" x="587" y="450.9">36</text><text class="c" x="587" y="463.3">35</text><text class="c" x="587" y="475.6">34</text><text class="c" x="587" y="488">33</text><text class="c" x="587" y="500.3">32</text><text class="c" x="587" y="512.7">31</text><text class="c" x="587" y="525">30</text><text class="c" x="587" y="537.4">29</text><text class="c" x="587" y="549.7">28</text><text class="c" x="587" y="562.1">27</text><text class="c" x="587" y="574.4">26</text><text class="c" x="587" y="586.8">25</text><text class="c" x="587" y="599.1">24</text><text class="c" x="587" y="611.5">23</text><text class="c" x="587" y="623.8">22</text><text class="c" x="587" y="636.2">21</text><text class="c" x="587" y="648.5">47</text><text class="c" x="587" y="660.9">48</text>
</g>
<text class="e" x="368" y="393.65">GND</text><text class="e" x="368" y="406">GND</text><text class="e" x="369" y="554.2">+3.3V</text><text class="e" x="368" y="566.55">GND</text>
<text x="621" y="504.8">+3.3V</text><text x="625" y="517.15">GND</text>
<text class="e" x="630" y="566">+5C</text>

<text x="761" y="236" class="s">µSD_DM3ATDM3AT</text><text x="762" y="462" class="n">M2</text>
<g class="s">
<text x="766" y="257.7">SHIELD</text><text x="766" y="270">SHIELD</text><text x="766" y="282.4">SHIELD</text><text x="766" y="294.7">SHIELD</text><text x="766" y="319.4">CDB</text><text x="766" y="331.7">CDA</text><text x="766" y="356.7">DAT1</text><text x="766" y="369">DAT0</text><text x="766" y="381.7">VSS</text><text x="766" y="393.5">CLK</text><text x="766" y="406">VDD</text><text x="766" y="418.35">CMD</text><text x="766" y="430.7">CD/DAT3</text><text x="766" y="443">DAT2</text>
</g>
<g class="t">
<text x="738" y="253">GND4</text><text x="738" y="265.3">GND3</text><text x="738" y="277.7">GND2</text><text x="738" y="290">GND1</text><text x="741" y="315">CD2</text><text x="741" y="327.3">CD1</text>
</g>
<g class="n">
<text class="c" x="748" y="352.3">8</text><text class="c" x="748" y="364.6">7</text><text class="c" x="748" y="377.3">6</text><text class="c" x="748" y="389">5</text><text class="c" x="748" y="401.6">4</text><text class="c" x="748" y="414">3</text><text class="c" x="748" y="426.3">2</text><text class="c" x="748" y="438.6">1</text>
</g>
<text class="e" x="714" y="257.7">GND</text><text class="e" x="714" y="270">GND</text><text class="e" x="714" y="282.4">GND</text><text class="e" x="714" y="294.7">GND</text><text class="e" x="714" y="381.7">GND</text><text class="e" x="713" y="406">+3.3V</text>
<text class="c" x="612" y="314">+5C</text><text x="625" y="350">PTC1</text><text x="625" y="363">Thermistor_PTC</text>
<text class="c" x="353" y="301">BootLoad</text><text class="c" x="352" y="314">J2</text><text x="350" y="357">+5C</text>

<text x="32" y="340" class="m" textLength="114" lengthAdjust="spacingAndGlyphs">IN1: from Sequencer</text>
<text x="32" y="352.3" class="m" textLength="158" lengthAdjust="spacingAndGlyphs">Transport,Clock,Note,Remote</text>
<text x="45" y="375" class="n">Midi</text>
<text class="c" x="77" y="424">IN1</text>
<g class="n">
<text class="c" x="57" y="397" transform="rotate(-90 57 397)">5</text><text class="c" x="69" y="396" transform="rotate(-90 69 396)">3</text><text class="c" x="43" y="419">2</text><text class="c" x="57" y="456" transform="rotate(-90 57 456)">4</text><text class="c" x="69" y="456" transform="rotate(-90 69 456)">1</text>
</g>
<text class="c" x="118" y="424" transform="rotate(-90 118 424)">1N-4148</text>
<text class="c" x="140" y="463" transform="rotate(-90 140 463)">D64</text>
<text class="c" x="110" y="461.7">220</text><text class="c n" x="111" y="474">R9</text>
<text class="c" x="161.7" y="418.3">U1</text><text class="c" x="194" y="418.3">6N138</text>
<g class="n"><text class="c" x="156" y="436">3</text><text class="c" x="156" y="462">2</text><text class="c" x="216" y="426.5">5</text><text class="c" x="216" y="438.5">6</text><text class="c" x="216" y="463">7</text><text class="c" x="216" y="475">8</text></g>
<text class="c" x="235" y="418.3">GND</text><text class="c" x="225" y="455">4K7</text><text class="c" x="250.5" y="455">R17</text><text x="276" y="468.3">GND</text><text x="245" y="480">+5C</text>
<text class="c t" x="296.7" y="431" transform="rotate(-90 296.7 431)">1K</text>
<text class="c" x="310" y="416" transform="rotate(-90 310 416)">R15 +5C</text>
<text class="e" x="260" y="504.8">+3.3V</text><text class="e" x="257" y="517.15">GND</text><text class="e" x="258" y="529.5">+5C</text>
<g class="n"><text class="c" x="288" y="500.5">1</text><text class="c" x="288" y="512.8">3</text><text class="c" x="288" y="525">5</text><text class="c" x="331" y="500.5">2</text><text class="c" x="331" y="512.8">4</text><text class="c" x="331" y="525">6</text></g>
<text class="c" x="309" y="542.7">AIN1</text><text class="c" x="309" y="554.3">PIN</text>
<text class="c n" x="136.7" y="530" transform="rotate(-90 136.7 530)">GND</text>
<text class="c" x="120" y="553">2</text><text x="131" y="553">OUT1</text>
<text x="10" y="571.7">+5C</text><text x="10" y="598.3">+5C</text>
<text class="c" x="63" y="560">220</text><text class="c" x="63" y="584.3">220</text>
<text class="c n" x="61.7" y="571.7">R11</text><text class="c n" x="61.7" y="598.3">R13</text>
<text class="c n" x="180.5" y="571.7">R10</text><text class="c n" x="180.5" y="597.3">R12</text>
<text class="c" x="175.5" y="560">220</text><text class="c" x="181.5" y="610">220</text>
<g class="n"><text class="c" x="94" y="567">4</text><text class="c" x="94" y="579">1</text><text class="c" x="94" y="593">6</text><text class="c" x="155" y="567">5</text><text class="c" x="155" y="579">3</text><text class="c" x="155" y="593">7</text></g>
<text class="c n" x="118.3" y="616.7" transform="rotate(-90 118.3 616.7)">8</text><text x="126.7" y="616.7">Midi</text>
<text x="193.3" y="580.7" class="m" textLength="83" lengthAdjust="spacingAndGlyphs">OUT1: to Synth</text>
<text x="193.3" y="606" class="m" textLength="93" lengthAdjust="spacingAndGlyphs">OUT2: to Remote</text>
<text x="193.3" y="617.3" class="m" textLength="130" lengthAdjust="spacingAndGlyphs">(not needet as default)</text>

<text x="545" y="764">220R37</text><text x="545" y="777">220R36</text>
<text x="540" y="801">LED&#160;&#160;UI-4</text><text x="540" y="813">LED&#160;&#160;UI-5</text>
<text class="c n" x="600" y="845" transform="rotate(-90 600 845)">GND</text><text class="c n" x="619" y="845" transform="rotate(-90 619 845)">GND</text>

<text x="692" y="727">U3</text><text x="734" y="727">74LS165</text>
<text class="c n" x="722" y="720" transform="rotate(-90 722 720)">16</text>
<text class="c" x="728.5" y="747.5" transform="rotate(-90 728.5 747.5)">VCC</text>
<text class="c" x="728.5" y="903" transform="rotate(-90 728.5 903)">GND</text>
<text class="c n" x="724" y="931" transform="rotate(-90 724 931)">8</text>
<text x="697" y="746">Q7</text><text x="697" y="758">Q7</text>
<text class="c" x="680" y="741.5">9</text><text class="c" x="680" y="753.5">7</text>
<g class="e">
<text x="762" y="746">DS</text><text x="762" y="758.3">D0</text><text x="762" y="770.7">D1</text><text x="762" y="783">D2</text><text x="762" y="795.3">D3</text><text x="762" y="807.7">D4</text><text x="762" y="820">D5</text><text x="762" y="832.3">D6</text><text x="762" y="844.7">D7</text><text x="762" y="869">PL</text><text x="762" y="894">CP</text><text x="762" y="906">CE</text>
</g>
<g class="c">
<text x="778" y="735.5">10</text><text x="778" y="753.8">11</text><text x="778" y="766.2">12</text><text x="778" y="778.5">13</text><text x="778" y="790.8">14</text><text x="778" y="803.2">3</text><text x="778" y="815.5">4</text><text x="778" y="827.8">5</text><text x="778" y="840.2">6</text><text x="778" y="864.5">1</text><text x="778" y="889">2</text><text x="778" y="901.5">15</text>
</g>
<text x="752" y="709">+5C</text><text class="c" x="792" y="684">+5C</text><text x="800" y="714">10K</text><text x="800" y="727">R1</text>
<text x="813" y="906">GND</text><text x="752" y="942.5">GND</text><text x="752" y="956">+5C</text>
<g class="t c">
<text x="938.5" y="758.3">10K</text><text x="938.5" y="770.7">10K</text><text x="938.5" y="783">10K</text><text x="938.5" y="795.3">10K</text><text x="938.5" y="807.7">10K</text><text x="938.5" y="820">10K</text><text x="938.5" y="832.3">10K</text><text x="938.5" y="844.7">10K</text>
</g>
<text x="940" y="751">R19</text><text x="943" y="763.7">R20</text><text x="943" y="776">R21</text><text x="943" y="788.3">R22</text><text x="943" y="800.7">R23</text><text x="943" y="813">R24</text><text x="943" y="825.3">R25</text><text x="943" y="837.7">R26</text>
<text x="973" y="758.3">+5C</text><text x="973" y="770.7">+5C</text><text x="973" y="783">+5C</text><text x="973" y="795.3">+5C</text><text x="973" y="807.7">+5C</text><text x="973" y="820">+5C</text><text x="973" y="832.3">+5C</text><text x="973" y="844.7">+5C</text>

<text class="c" x="865" y="856">GND</text>
<text class="c t" x="860" y="890" transform="rotate(-90 860 890)">2</text><text class="c t" x="873" y="890" transform="rotate(-90 873 890)">1</text>
<text class="e" x="856" y="907">Pin</text><text x="885" y="907">Foot1</text>
<text class="b" x="842" y="919">Connect:</text><text class="b" x="842" y="932" textLength="95" lengthAdjust="spacingAndGlyphs">REC-Foot Switch</text><text class="b" x="842" y="944.5">here</text>

<text x="692" y="974">U4</text><text x="735" y="974">74LS165</text>
<text class="c n" x="722" y="967" transform="rotate(-90 722 967)">16</text>
<text class="c" x="728.5" y="995" transform="rotate(-90 728.5 995)">VCC</text>
<text class="c" x="728.5" y="1151" transform="rotate(-90 728.5 1151)">GND</text>
<text class="c n" x="724" y="1178" transform="rotate(-90 724 1178)">8</text>
<text x="697" y="993">Q7</text><text x="697" y="1005.3">Q7</text>
<text class="c" x="680" y="988.5">9</text><text class="c" x="680" y="1001">7</text>
<g class="e">
<text x="763" y="993">DS</text><text x="763" y="1005.3">D0</text><text x="763" y="1017.7">D1</text><text x="763" y="1030">D2</text><text x="763" y="1042.3">D3</text><text x="763" y="1054.7">D4</text><text x="763" y="1067">D5</text><text x="763" y="1079.3">D6</text><text x="763" y="1091.7">D7</text><text x="763" y="1116">PL</text><text x="763" y="1141">CP</text><text x="763" y="1153.3">CE</text>
</g>
<g class="c">
<text x="778" y="988.5">10</text><text x="778" y="1000.8">11</text><text x="778" y="1013.2">12</text><text x="778" y="1025.5">13</text><text x="778" y="1037.8">14</text><text x="778" y="1050.2">3</text><text x="778" y="1062.5">4</text><text x="778" y="1074.8">5</text><text x="778" y="1087.2">6</text><text x="778" y="1111.5">1</text><text x="778" y="1136.5">2</text><text x="778" y="1148.8">15</text>
</g>
<text class="c" x="791" y="937">+5C</text><text x="798" y="969">10K</text><text x="798" y="981">R2</text>
<text x="813" y="1153.3">GND</text><text x="752" y="1190">GND</text>
<g class="t c">
<text x="1007" y="1005.3">10K</text><text x="1007" y="1017.7">10K</text><text x="1007" y="1030">10K</text><text x="1007" y="1042.3">10K</text><text x="1007" y="1054.7">10K</text><text x="1007" y="1067">10K</text><text x="1007" y="1079.3">10K</text><text x="1007" y="1091.7">10K</text>
</g>
<text x="1008" y="998.3">R27</text><text x="1008" y="1010.7">R28</text><text x="1008" y="1023">R29</text><text x="1008" y="1035.3">R30</text><text x="1008" y="1047.7">R31</text><text x="1008" y="1060">R32</text><text x="1008" y="1072.3">R33</text><text x="1008" y="1084.7">R34</text>
<text x="1042" y="1005.3">+5C</text><text x="1042" y="1017.7">+5C</text><text x="1042" y="1030">+5C</text><text x="1042" y="1042.3">+5C</text><text x="1042" y="1054.7">+5C</text><text x="1042" y="1067">+5C</text><text x="1042" y="1079.3">+5C</text><text x="1042" y="1091.7">+5C</text>

<g class="n">
<text class="e" x="1186" y="951.7">S7</text><text class="e" x="1186" y="988.7">S6</text><text class="e" x="1186" y="1025.7">S5</text><text class="e" x="1186" y="1062.7">S1A</text><text class="e" x="1186" y="1099.7">S2A</text><text class="e" x="1186" y="1136.7">S3A</text><text class="e" x="1186" y="1173.7">S4A</text>
<text x="1224" y="946">X</text><text x="1224" y="983">C</text><text x="1224" y="1020">V</text><text x="1207" y="1057">Part1</text><text x="1207" y="1094">Part2</text><text x="1207" y="1131">Part3</text><text x="1207" y="1168">Part4</text>
</g>
<text x="1247" y="956">GND</text><text x="1247" y="968.3">GND</text><text x="1247" y="993">GND</text><text x="1247" y="1005.3">GND</text><text x="1247" y="1030">GND</text><text x="1247" y="1042.3">GND</text><text x="1247" y="1067">GND</text><text x="1247" y="1079.3">GND</text><text x="1247" y="1104">GND</text><text x="1247" y="1116.3">GND</text><text x="1247" y="1141">GND</text><text x="1247" y="1153.3">GND</text><text x="1247" y="1178">GND</text><text x="1247" y="1190.3">GND</text>

<g class="n">
<text x="1096" y="810">S9</text><text x="1090" y="847">S10</text><text x="1090" y="884">S11</text>
<text x="1118" y="805">LENGTH</text><text x="1130" y="842">TACT</text><text x="1123" y="879">Preset</text>
</g>
<text x="1165" y="814">GND</text><text x="1165" y="826.7">GND</text><text x="1165" y="851">GND</text><text x="1165" y="863.3">GND</text><text x="1165" y="888">GND</text><text x="1165" y="900.3">GND</text>

<text class="c" x="1236" y="678">ENC1</text>
<g class="t">
<text x="1213" y="709.5">A</text><text x="1228" y="715.5">A</text><text x="1239" y="715.5">C</text><text x="1252" y="710">C</text>
<text x="1213" y="734.5">B</text><text x="1228" y="740.5">B</text>
<text x="1213" y="771">1</text><text x="1228" y="777.5">1</text><text x="1239" y="777.5">2</text><text x="1252" y="771">2</text>
<text x="1223" y="801.7">GNDL</text><text x="1246" y="797.5">GNDL</text><text x="1223" y="813.3">GNDR</text><text x="1246" y="809">GNDR</text>
<text x="1239" y="870">S</text><text x="1229" y="882">P</text><text x="1239" y="882">S</text>
</g>
<text x="1283" y="715">GND</text><text x="1283" y="776.7">GND</text><text x="1283" y="801.7">GND</text><text x="1283" y="813.3">GND</text><text x="1283" y="869">GND</text><text x="1283" y="881.7">GND</text>
<text class="n" x="1243" y="854">S8</text><text class="n" x="1262" y="854">Shift</text>
<text class="c" x="1310" y="752" transform="rotate(-90 1310 752)" style="font-size:10.5px" textLength="111" lengthAdjust="spacingAndGlyphs">ENC_BOURNS_PEC11</text>

<text class="c" x="692" y="542">GND</text><text class="c" x="661" y="554">R16</text><text class="c" x="641" y="573">1K</text>
<text class="e" x="653" y="591">GND</text><text class="c" x="687.5" y="578">4K7</text><text class="c n" x="686" y="591">R18</text><text class="e" x="686" y="603">+5C</text>
<g class="n"><text class="c" x="711" y="549">5</text><text class="c" x="711" y="561.5">6</text><text class="c" x="711" y="586.5">7</text><text class="c" x="711" y="598.5">8</text><text class="c" x="773" y="556">3</text><text class="c" x="773" y="583.5">2</text></g>
<text class="c" x="726" y="616">6N138</text><text class="c" x="760" y="616">U2</text>
<text class="c" x="804" y="553">1N-4148</text>
<text class="c n" x="787" y="578" transform="rotate(-90 787 578)">D65</text>
<text class="c" x="818" y="586">220</text><text class="c" x="818" y="610">R14</text>
<text x="872" y="578">IN2</text>
<g class="n">
<text class="c" x="860" y="553" transform="rotate(-90 860 553)">5</text><text class="c" x="884" y="550" transform="rotate(-90 884 550)">3</text><text class="c" x="847" y="575">2</text><text class="c" x="860" y="607" transform="rotate(-90 860 607)">4</text><text class="c" x="884" y="607" transform="rotate(-90 884 607)">1</text>
</g>
<text x="843" y="523" class="n">Midi</text>
<text x="823" y="495" style="font-size:11px">IN2:</text>
<text x="823" y="507" style="font-size:11px" textLength="80" lengthAdjust="spacingAndGlyphs">CC from Synth</text>

<text x="1397" y="1179.5" style="font-size:10.5px;font-weight:bold;fill:#222">www.siglgut.at</text>
<text x="1397" y="1194" style="font-size:10px">Sheet: /</text>
<text x="1397" y="1206" style="font-size:10px">File: CC_Looper.sch</text>
<text x="1397" y="1224" style="font-size:11px;font-weight:bold;fill:#222">Title: CC_Looper</text>
</svg>
</body></html>
